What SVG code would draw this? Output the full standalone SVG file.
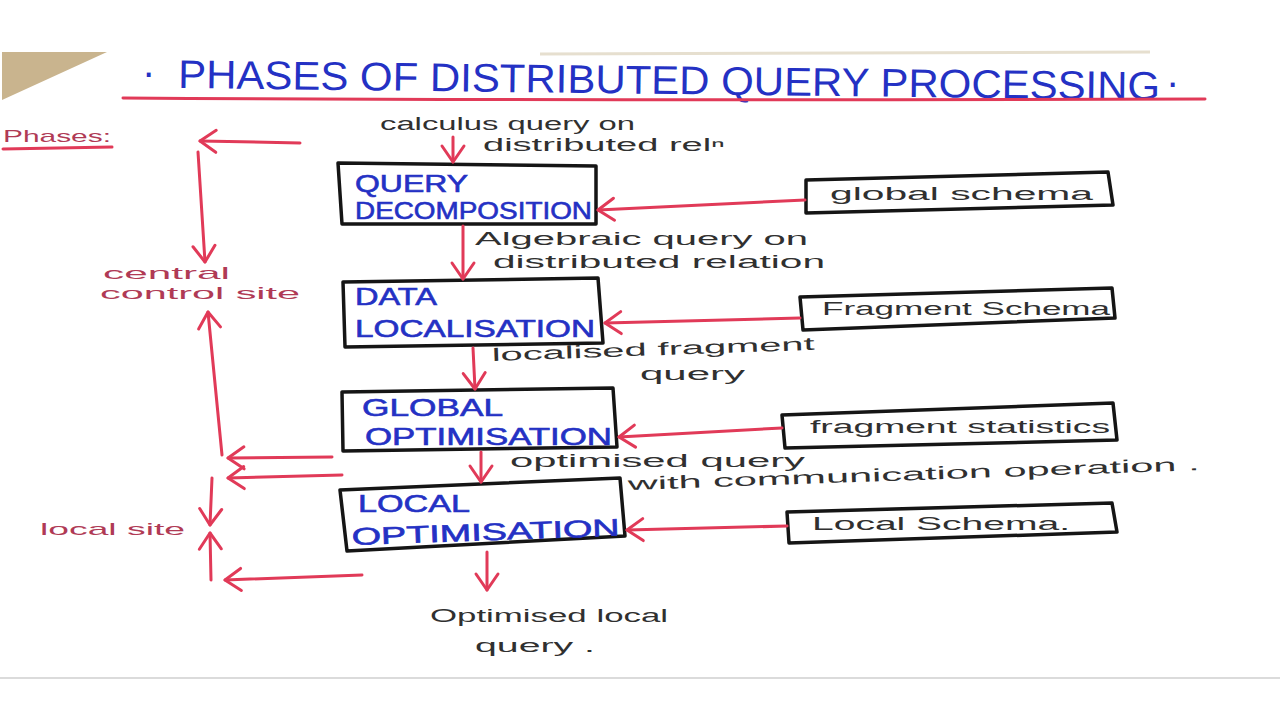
<svg xmlns="http://www.w3.org/2000/svg" width="1280" height="720" viewBox="0 0 1280 720">
<defs>
<style>
.bg{fill:#ffffff}
.box{fill:none;stroke:#151515;stroke-width:3.5;stroke-linejoin:round}
.blue{font-family:"Liberation Sans","Open Sans",sans-serif;fill:#2431c4;stroke:#2431c4;stroke-width:0.6;font-size:24px}
.title{font-family:"Liberation Sans","Open Sans",sans-serif;fill:#2431c4;font-size:40px}
.hand{font-family:"Liberation Sans","DejaVu Sans",sans-serif;fill:#303030;font-size:18px}
.maroon{font-family:"Liberation Sans","DejaVu Sans",sans-serif;fill:#b03a55;font-size:17px}
.red{fill:none;stroke:#e13a58;stroke-width:3;stroke-linecap:round}
.ah{fill:none;stroke:#e13a58;stroke-width:3;stroke-linecap:round;stroke-linejoin:round}
</style>
<marker id="arr" markerUnits="userSpaceOnUse" markerWidth="24" markerHeight="28" viewBox="0 0 24 28" refX="20" refY="14" orient="auto">
<path class="ah" d="M4,3 L20,14 L4,25"/>
</marker>
</defs>
<rect class="bg" x="0" y="0" width="1280" height="720"/>
<polygon points="2,52 107,52 2,100" fill="#c9b48e"/>
<path d="M540,54 L1150,52" stroke="#e6dfcf" stroke-width="3" fill="none"/>
<line x1="0" y1="678" x2="1280" y2="678" stroke="#cfcfcf" stroke-width="1.5"/>

<g id="title">
<text class="title" x="142" y="86">·</text>
<g transform="rotate(0.7 178 88)">
<text class="title" x="178" y="88" textLength="982" lengthAdjust="spacingAndGlyphs">PHASES OF DISTRIBUTED QUERY PROCESSING</text>
</g>
<text class="title" x="1166" y="96">·</text>
<path class="red" d="M123,98 Q600,101 1205,99"/>
</g>

<g id="phases-label">
<text class="maroon" x="3" y="142" textLength="108" lengthAdjust="spacingAndGlyphs">Phases:</text>
<path class="red" d="M3,149 L112,147" stroke-width="2"/>
</g>

<g id="central-control-site">
<text class="maroon" x="103" y="279" textLength="127" lengthAdjust="spacingAndGlyphs">central</text>
<text class="maroon" x="100" y="299" textLength="200" lengthAdjust="spacingAndGlyphs">control site</text>
</g>
<g id="local-site">
<text class="maroon" x="40" y="535" textLength="145" lengthAdjust="spacingAndGlyphs">local site</text>
</g>

<g id="query-decomposition">
<polygon class="box" points="338,163 596,166 596,224 342,224"/>
<text class="blue" x="355" y="192" textLength="113" lengthAdjust="spacingAndGlyphs">QUERY</text>
<text class="blue" x="355" y="219" textLength="237" lengthAdjust="spacingAndGlyphs">DECOMPOSITION</text>
</g>
<g id="data-localisation">
<polygon class="box" points="343,282 598,278 603,343 345,347"/>
<text class="blue" x="355" y="305" textLength="82" lengthAdjust="spacingAndGlyphs">DATA</text>
<text class="blue" x="355" y="337" textLength="240" lengthAdjust="spacingAndGlyphs">LOCALISATION</text>
</g>
<g id="global-optimisation">
<polygon class="box" points="342,392 613,388 617,447 343,451"/>
<text class="blue" x="362" y="416" textLength="141" lengthAdjust="spacingAndGlyphs">GLOBAL</text>
<text class="blue" x="365" y="445" textLength="247" lengthAdjust="spacingAndGlyphs">OPTIMISATION</text>
</g>
<g id="local-optimisation">
<polygon class="box" points="340,490 620,478 625,536 347,551"/>
<text class="blue" x="358" y="512" textLength="112" lengthAdjust="spacingAndGlyphs">LOCAL</text>
<g transform="rotate(-2 352 545)">
<text class="blue" x="352" y="545" textLength="268" lengthAdjust="spacingAndGlyphs">OPTIMISATION</text>
</g>
</g>

<g id="global-schema">
<polygon class="box" points="806,180 1108,172 1113,205 806,213"/>
<text class="hand" x="830" y="200" textLength="263" lengthAdjust="spacingAndGlyphs">global schema</text>
</g>
<g id="fragment-schema">
<polygon class="box" points="800,297 1112,288 1115,318 803,330"/>
<text class="hand" x="822" y="315" textLength="288" lengthAdjust="spacingAndGlyphs">Fragment Schema</text>
</g>
<g id="fragment-statistics">
<polygon class="box" points="782,415 1113,403 1117,440 785,448"/>
<text class="hand" x="810" y="433" textLength="300" lengthAdjust="spacingAndGlyphs">fragment statistics</text>
</g>
<g id="local-schema">
<polygon class="box" points="787,512 1112,503 1117,532 789,543"/>
<text class="hand" x="812" y="530" textLength="258" lengthAdjust="spacingAndGlyphs">Local Schema.</text>
</g>

<g id="labels">
<text class="hand" x="380" y="130" textLength="255" lengthAdjust="spacingAndGlyphs">calculus query on</text>
<text class="hand" x="483" y="151" textLength="242" lengthAdjust="spacingAndGlyphs">distributed relⁿ</text>
<text class="hand" x="475" y="245" textLength="333" lengthAdjust="spacingAndGlyphs">Algebraic query on</text>
<text class="hand" x="493" y="268" textLength="332" lengthAdjust="spacingAndGlyphs">distributed relation</text>
<g transform="rotate(-2 492 361)">
<text class="hand" x="492" y="361" textLength="323" lengthAdjust="spacingAndGlyphs">localised fragment</text>
</g>
<text class="hand" x="640" y="380" textLength="105" lengthAdjust="spacingAndGlyphs">query</text>
<text class="hand" x="510" y="467" textLength="295" lengthAdjust="spacingAndGlyphs">optimised query</text>
<g transform="rotate(-2 628 490)">
<text class="hand" x="628" y="490" textLength="572" lengthAdjust="spacingAndGlyphs">with communication operation .</text>
</g>
<text class="hand" x="430" y="622" textLength="238" lengthAdjust="spacingAndGlyphs">Optimised local</text>
<text class="hand" x="475" y="652" textLength="120" lengthAdjust="spacingAndGlyphs">query .</text>
</g>

<g id="connectors">
<line class="red" x1="453" y1="137" x2="453" y2="162" marker-end="url(#arr)"/>
<line class="red" x1="463" y1="226" x2="463" y2="279" marker-end="url(#arr)"/>
<line class="red" x1="473" y1="348" x2="475" y2="389" marker-end="url(#arr)"/>
<line class="red" x1="481" y1="452" x2="481" y2="482" marker-end="url(#arr)"/>
<line class="red" x1="487" y1="552" x2="487" y2="590" marker-end="url(#arr)"/>

<line class="red" x1="805" y1="200" x2="598" y2="210" marker-end="url(#arr)"/>
<line class="red" x1="800" y1="318" x2="605" y2="323" marker-end="url(#arr)"/>
<line class="red" x1="782" y1="428" x2="619" y2="437" marker-end="url(#arr)"/>
<line class="red" x1="787" y1="526" x2="627" y2="530" marker-end="url(#arr)"/>

<line class="red" x1="300" y1="143" x2="200" y2="141" marker-end="url(#arr)"/>
<line class="red" x1="198" y1="152" x2="205" y2="262" marker-end="url(#arr)"/>
<line class="red" x1="222" y1="455" x2="208" y2="312" marker-end="url(#arr)"/>
<line class="red" x1="332" y1="457" x2="228" y2="458" marker-end="url(#arr)"/>
<line class="red" x1="342" y1="475" x2="228" y2="478" marker-end="url(#arr)"/>
<line class="red" x1="212" y1="478" x2="210" y2="525" marker-end="url(#arr)"/>
<line class="red" x1="211" y1="580" x2="210" y2="533" marker-end="url(#arr)"/>
<line class="red" x1="362" y1="575" x2="225" y2="580" marker-end="url(#arr)"/>
</g>
</svg>
